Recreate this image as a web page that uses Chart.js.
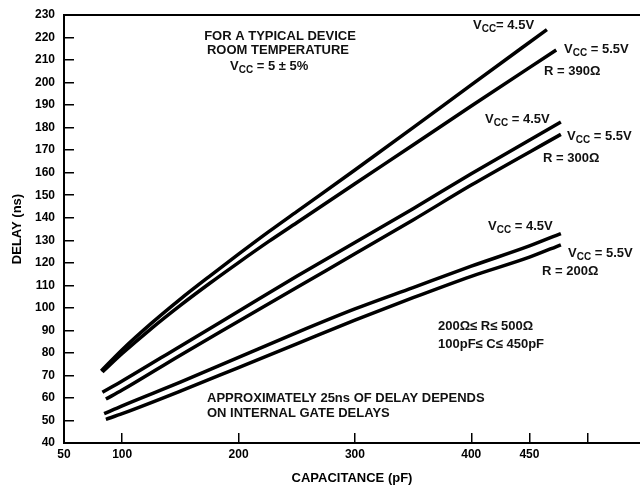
<!DOCTYPE html>
<html><head><meta charset="utf-8">
<script src="https://cdn.jsdelivr.net/npm/chart.js@4"></script>
<style>html,body{margin:0;padding:0;background:#fff}</style>
</head><body>
<canvas id="c" width="640" height="486" style="display:block;width:640px;height:486px"></canvas>
<script>
// tick values / labels
const xTickValues = [50, 100, 200, 300, 400, 450, 500];
const xTickLabels = ['50', '100', '200', '300', '400', '450', ''];

// R = 390 ohm
const cap390a = [82, 100, 125, 150, 175, 200, 226, 250, 300, 350, 400, 465];
const del390a = [72, 81.4, 93.1, 103.9, 114, 123.8, 133.8, 142.7, 161.2, 180, 199, 223.5];
const cap390b = [83, 100, 125, 150, 175, 200, 226, 250, 300, 350, 400, 473];
const del390b = [71.5, 79.7, 90.8, 101.1, 110.8, 120.1, 129.5, 137.8, 155.1, 172.3, 189.6, 214.5];
// R = 300 ohm
const cap300a = [83, 100, 150, 200, 250, 300, 350, 400, 477];
const del300a = [62.5, 67.5, 83, 98.5, 114, 129, 144, 159.5, 182.5];
const cap300b = [86, 100, 150, 200, 250, 300, 350, 400, 477];
const del300b = [59.5, 63.5, 79, 94, 109, 124, 139, 154.5, 177];
// R = 200 ohm
const cap200a = [84.5, 100, 150, 200, 250, 300, 350, 400, 450, 477];
const del200a = [53, 56.5, 67, 78, 89, 99.5, 109, 118.5, 127.5, 133];
const cap200b = [86, 100, 150, 200, 250, 300, 350, 400, 450, 477];
const del200b = [50.5, 53, 63, 73.5, 84, 94.5, 104.5, 114, 122.5, 128];

const FONT = '"Liberation Sans", Arial, sans-serif';
const pts = (xs, ys) => xs.map((x, i) => ({x, y: ys[i]}));
const ds = (label, xs, ys) => ({
  label, data: pts(xs, ys), borderColor: '#000', borderWidth: 3.5,
  pointRadius: 0, fill: false, cubicInterpolationMode: 'monotone', borderCapStyle: 'butt'
});

function vcc(ctx, x, y, rest) {
  ctx.font = 'bold 13px ' + FONT;
  ctx.fillText('V', x, y);
  let w = ctx.measureText('V').width;
  ctx.font = 'bold 10px ' + FONT;
  ctx.fillText('CC', x + w, y + 3);
  w += ctx.measureText('CC').width;
  ctx.font = 'bold 13px ' + FONT;
  ctx.fillText(rest, x + w, y);
}

const annot = {
  id: 'annot',
  afterDraw(chart) {
    const ctx = chart.ctx, a = chart.chartArea;
    ctx.save();
    ctx.strokeStyle = '#000'; ctx.lineWidth = 2;
    ctx.beginPath(); ctx.moveTo(a.left - 1, a.top); ctx.lineTo(a.right, a.top); ctx.stroke();
    ctx.fillStyle = '#111';
    ctx.textBaseline = 'alphabetic';
    ctx.font = 'bold 13px ' + FONT;
    ctx.textAlign = 'center';
    ctx.fillText('FOR A TYPICAL DEVICE', 280, 40);
    ctx.fillText('ROOM TEMPERATURE', 278, 54);
    ctx.textAlign = 'left';
    vcc(ctx, 230, 70, ' = 5 \u00B1 5%');
    vcc(ctx, 473, 29, '= 4.5V');
    vcc(ctx, 564, 53, ' = 5.5V');
    ctx.fillText('R = 390\u03A9', 544, 75);
    vcc(ctx, 485, 123, ' = 4.5V');
    vcc(ctx, 567, 140, ' = 5.5V');
    ctx.fillText('R = 300\u03A9', 543, 162);
    vcc(ctx, 488, 230, ' = 4.5V');
    vcc(ctx, 568, 257, ' = 5.5V');
    ctx.fillText('R = 200\u03A9', 542, 275);
    ctx.fillText('200\u03A9\u2264 R\u2264 500\u03A9', 438, 330);
    ctx.fillText('100pF\u2264 C\u2264 450pF', 438, 348);
    ctx.fillText('APPROXIMATELY 25ns OF DELAY DEPENDS', 207, 402);
    ctx.fillText('ON INTERNAL GATE DELAYS', 207, 417);
    ctx.restore();
  }
};

new Chart(document.getElementById('c'), {
  type: 'line',
  data: {
    datasets: [
      ds('390 4.5V', cap390a, del390a), ds('390 5.5V', cap390b, del390b),
      ds('300 4.5V', cap300a, del300a), ds('300 5.5V', cap300b, del300b),
      ds('200 4.5V', cap200a, del200a), ds('200 5.5V', cap200b, del200b)
    ]
  },
  options: {
    responsive: false, animation: false, devicePixelRatio: 1,
    layout: {padding: {top: 15, right: 0, left: 0, bottom: 0}},
    plugins: {legend: {display: false}, tooltip: {enabled: false}},
    scales: {
      x: {
        type: 'linear', min: 50, max: 545,
        afterBuildTicks: s => { s.ticks = xTickValues.map(v => ({value: v})); },
        afterFit: s => { s.height = 43; s.paddingLeft = 0; s.paddingRight = 0; },
        ticks: {
          autoSkip: false, maxRotation: 0, padding: 14, color: '#000',
          font: {family: FONT, size: 12, weight: 'bold'},
          callback: v => xTickLabels[xTickValues.indexOf(v)]
        },
        grid: {drawOnChartArea: false, drawTicks: true, tickLength: -10, color: '#000', lineWidth: 1.5},
        border: {display: true, color: '#000', width: 2},
        title: {display: true, text: 'CAPACITANCE (pF)', color: '#000',
          font: {family: FONT, size: 13, weight: 'bold'}, padding: {top: 0, bottom: 0}}
      },
      y: {
        min: 40, max: 230,
        afterFit: s => { s.width = 64; s.paddingTop = 0; s.paddingBottom = 0; },
        ticks: {stepSize: 10, padding: 19, color: '#000', font: {family: FONT, size: 12, weight: 'bold'}},
        grid: {drawOnChartArea: false, drawTicks: true, tickLength: -10, color: '#000', lineWidth: 1.5},
        border: {display: true, color: '#000', width: 2},
        title: {display: true, text: 'DELAY (ns)', color: '#000',
          font: {family: FONT, size: 13, weight: 'bold'}, padding: {top: 10, bottom: 0}}
      }
    }
  },
  plugins: [annot]
});
</script>
</body></html>
